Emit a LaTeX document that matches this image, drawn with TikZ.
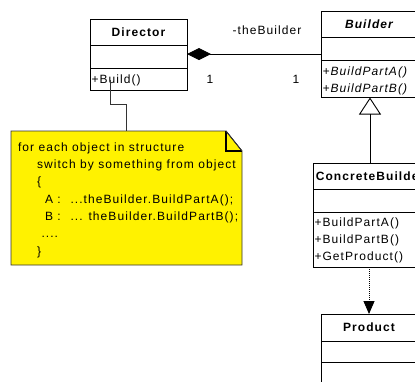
\documentclass[tikz,border=0pt]{standalone}
\usepackage{fontspec}
\setmainfont{Liberation Sans}
\newfontfamily\umlfont[LetterSpace=9]{Liberation Sans}
\usetikzlibrary{arrows.meta}
\begin{document}
\begin{tikzpicture}[x=1pt,y=-1pt,
  every node/.style={font=\umlfont\fontsize{12}{13}\selectfont, inner sep=0pt, outer sep=0pt},
  classbox/.style={draw=black, fill=white, line width=0.9pt, anchor=north west, minimum width=#1},
  divider/.style={draw=black, line width=0.9pt},
  titletext/.style={font=\umlfont\fontsize{12}{13}\selectfont\bfseries, anchor=base},
  itltitle/.style={font=\umlfont\fontsize{12}{13}\selectfont\bfseries\itshape, anchor=base},
  member/.style={anchor=base west},
  itlmember/.style={anchor=base west, font=\umlfont\fontsize{12}{13}\selectfont\itshape},
  conn/.style={draw=black, line width=0.9pt},
  notetext/.style={anchor=base west},
  label/.style={anchor=base}
]
\useasboundingbox (0,0) rectangle (415,381);
\clip (0,0) rectangle (415,381);
\fill[white] (0,0) rectangle (415,381);

% Director
\node[classbox=97, minimum height=71] (director) at (90,19) {};
\draw[divider] (90,45) -- (187,45);
\draw[divider] (90,68) -- (187,68);
\node[titletext] (dirtitle) at (138.5,36.5) {Director};
\node[member] (dirbuild) at (91.5,83) {+Build()};

% Builder
\node[classbox=96, minimum height=86] (builder) at (321,11) {};
\draw[divider] (321,37) -- (417,37);
\draw[divider] (321,60) -- (417,60);
\node[itltitle] (bldtitle) at (369,28.5) {Builder};
\node[itlmember] (bldA) at (322.5,75.5) {+BuildPartA()};
\node[itlmember] (bldB) at (322.5,92.5) {+BuildPartB()};

% ConcreteBuilder
\node[classbox=112, minimum height=104] (concrete) at (313,163) {};
\draw[divider] (313,189) -- (425,189);
\draw[divider] (313,212) -- (425,212);
\node[titletext] (contitle) at (370,180.5) {ConcreteBuilder};
\node[member] (conA) at (314.5,226.5) {+BuildPartA()};
\node[member] (conB) at (314.5,243.5) {+BuildPartB()};
\node[member] (conC) at (314.5,260.5) {+GetProduct()};

% Product
\node[classbox=96, minimum height=90] (product) at (321,314) {};
\draw[divider] (321,341) -- (417,341);
\draw[divider] (321,362) -- (417,362);
\node[titletext] (prodtitle) at (369,331.5) {Product};

% association Director -> Builder
\coordinate (assocS) at (187,54);
\coordinate (assocE) at (321,54);
\draw[conn, {Diamond[length=24pt,width=12pt]}-] (assocS) -- (assocE);
\node[label] (role) at (267,34) {-theBuilder};
\node[label] (m1) at (210,83) {1};
\node[label] (m2) at (296,83) {1};

% generalization ConcreteBuilder -> Builder
\coordinate (genS) at (370,163);
\coordinate (genE) at (370,97.5);
\draw[conn, -{Triangle[open,length=17pt,width=22pt,line width=0.9pt]}] (genS) -- (genE);

% dependency ConcreteBuilder -> Product
\coordinate (depS) at (369,267);
\coordinate (depE) at (369,314);
\draw[conn, dash pattern=on 1pt off 1pt, -{Triangle[length=13pt,width=11pt]}] (depS) -- (depE);

% note
\draw[draw=black!80, line width=0.9pt, fill=yellow]
  (11,131) -- (226,131) -- (242,151) -- (242,265) -- (11,265) -- cycle;
\draw[black, line width=1.6pt] (226,131) -- (226,151) -- (242,151);
\draw[black!80, line width=0.9pt] (226,131) -- (242,151);
\coordinate (note) at (126,131);
\coordinate (buildpt) at (110,80);
\draw[conn, draw=black!80] (buildpt) -- (110,104) -- (126,104) -- (note);

\node[notetext] (l1) at (18,151) {for each object in structure};
\node[notetext] (l2) at (37,168.4) {switch by something from object};
\node[notetext] (l3) at (37,185.8) {\{};
\node[notetext] (l4) at (45,203.2) {A :};
\node[notetext] (l4b) at (70.5,203.2) {...theBuilder.BuildPartA();};
\node[notetext] (l5) at (45,220.6) {B :};
\node[notetext] (l5b) at (70.5,220.6) {... theBuilder.BuildPartB();};
\node[notetext] (l6) at (41.5,237.5) {....};
\node[notetext] (l7) at (37,255) {\}};
\end{tikzpicture}
\end{document}
